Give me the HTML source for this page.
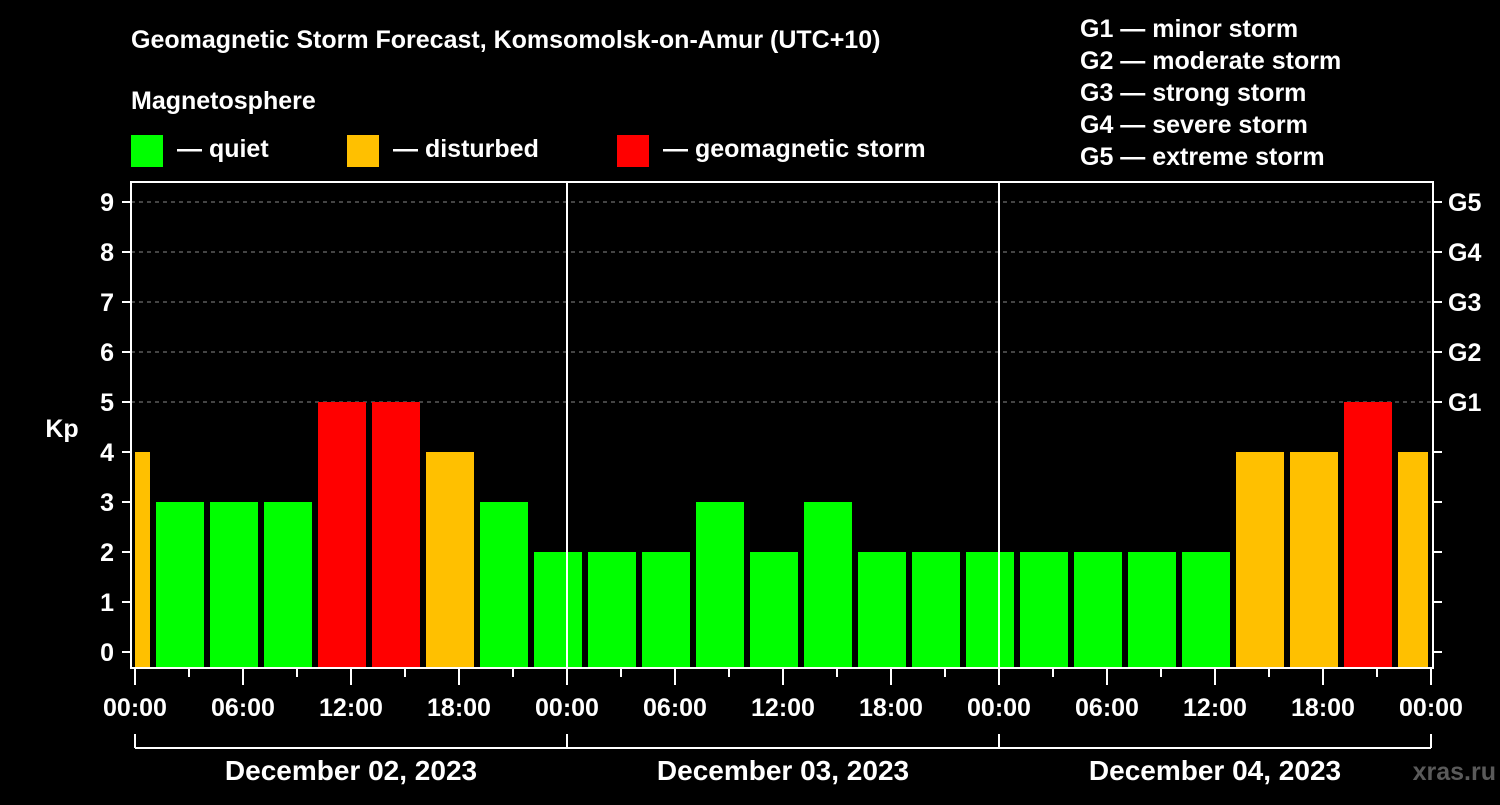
<!DOCTYPE html>
<html><head><meta charset="utf-8"><style>
html,body{margin:0;background:#000;}
svg text{font-family:"Liberation Sans",Arial,sans-serif;font-weight:bold;fill:#fff;}
</style></head><body>
<svg id="c" width="1500" height="800" viewBox="0 0 1500 800">
<rect width="1500" height="800" fill="#000"/>
<text x="131" y="48" font-size="25">Geomagnetic Storm Forecast, Komsomolsk-on-Amur (UTC+10)</text>
<text x="131" y="109" font-size="25">Magnetosphere</text>
<g><rect x="131" y="135" width="32" height="32" fill="#00ff00"/><text x="177" y="157" font-size="25">— quiet</text></g>
<g><rect x="347" y="135" width="32" height="32" fill="#ffc000"/><text x="393" y="157" font-size="25">— disturbed</text></g>
<g><rect x="617" y="135" width="32" height="32" fill="#ff0000"/><text x="663" y="157" font-size="25">— geomagnetic storm</text></g>
<g font-size="25">
<text x="1080" y="37">G1 — minor storm</text>
<text x="1080" y="69">G2 — moderate storm</text>
<text x="1080" y="101">G3 — strong storm</text>
<text x="1080" y="133">G4 — severe storm</text>
<text x="1080" y="165">G5 — extreme storm</text>
</g>
<text x="62" y="437" font-size="25" text-anchor="middle">Kp</text>
<g id="grid"></g><g id="bars"></g><g id="axes"></g>
<text x="1496" y="780" font-size="25" text-anchor="end" fill="#555" style="fill:#5a5a5a">xras.ru</text>
</svg>
<script>
const kpValues=[4,3,3,3,5,5,4,3,2,2,2,3,2,3,2,2,2,2,2,2,2,4,4,5,4];
const barHours=[-0.5,2.5,5.5,8.5,11.5,14.5,17.5,20.5,23.5,26.5,29.5,32.5,35.5,38.5,41.5,44.5,47.5,50.5,53.5,56.5,59.5,62.5,65.5,68.5,71.5];
const yTicks=[0,1,2,3,4,5,6,7,8,9];
const gLabels=["G1","G2","G3","G4","G5"];
const gLevels=[5,6,7,8,9];
const xTickLabels=["00:00","06:00","12:00","18:00","00:00","06:00","12:00","18:00","00:00","06:00","12:00","18:00","00:00"];
const dayLabels=["December 02, 2023","December 03, 2023","December 04, 2023"];
const NS="http://www.w3.org/2000/svg";
const X0=135,X1=1431,PL=131,PR=1433,PT=182,PB=668;
const xs=h=>X0+h*(X1-X0)/72;
const ys=v=>652-v*50;
function mk(tag,attrs,parent,txt){const e=document.createElementNS(NS,tag);for(const k in attrs)e.setAttribute(k,attrs[k]);if(txt!==undefined)e.textContent=txt;parent.appendChild(e);return e;}
const grid=document.getElementById('grid'),bars=document.getElementById('bars'),axes=document.getElementById('axes');
gLevels.forEach(v=>{const l=mk('line',{x1:PL,x2:PR,y1:ys(v),y2:ys(v),stroke:'#888','stroke-dasharray':'4,4','stroke-width':1},grid);

});
kpValues.forEach((v,i)=>{const c=xs(barHours[i]),w=48;let a=Math.max(c-w/2,X0),b=Math.min(c+w/2,X1-3);
const col=v>=5?'#ff0000':(v>=4?'#ffc000':'#00ff00');
const r=mk('rect',{x:a,y:ys(v),width:b-a,height:PB-1-ys(v),fill:col},bars);

});
mk('rect',{x:PL,y:PT,width:PR-PL,height:PB-PT,fill:'none',stroke:'#fff','stroke-width':2},axes);
[24,48].forEach(h=>{const l=mk('line',{x1:xs(h),x2:xs(h),y1:PT,y2:PB,stroke:'#fff','stroke-width':2},axes);

});
yTicks.forEach(v=>{mk('line',{x1:122,x2:PL,y1:ys(v),y2:ys(v),stroke:'#fff','stroke-width':2},axes);
mk('line',{x1:PR,x2:1442,y1:ys(v),y2:ys(v),stroke:'#fff','stroke-width':2},axes);
const t=mk('text',{x:114,y:ys(v)+9,'font-size':25,'text-anchor':'end'},axes,String(v));

});
gLevels.forEach((v,i)=>{const t=mk('text',{x:1448,y:ys(v)+9,'font-size':25},axes,gLabels[i]);

});
for(let h=0;h<=72;h+=3){const major=h%6===0;mk('line',{x1:xs(h),x2:xs(h),y1:PB,y2:major?685:677,stroke:'#fff','stroke-width':2},axes);}
xTickLabels.forEach((s,i)=>{const t=mk('text',{x:xs(i*6),y:716,'font-size':25,'text-anchor':'middle'},axes,s);

});
mk('line',{x1:X0,x2:X1,y1:748,y2:748,stroke:'#fff','stroke-width':2},axes);
[0,24,48,72].forEach(h=>mk('line',{x1:xs(h),x2:xs(h),y1:734,y2:748,stroke:'#fff','stroke-width':2},axes));
dayLabels.forEach((s,i)=>{const t=mk('text',{x:xs(i*24+12),y:780,'font-size':28,'text-anchor':'middle'},axes,s);

});
</script>
</body></html>
